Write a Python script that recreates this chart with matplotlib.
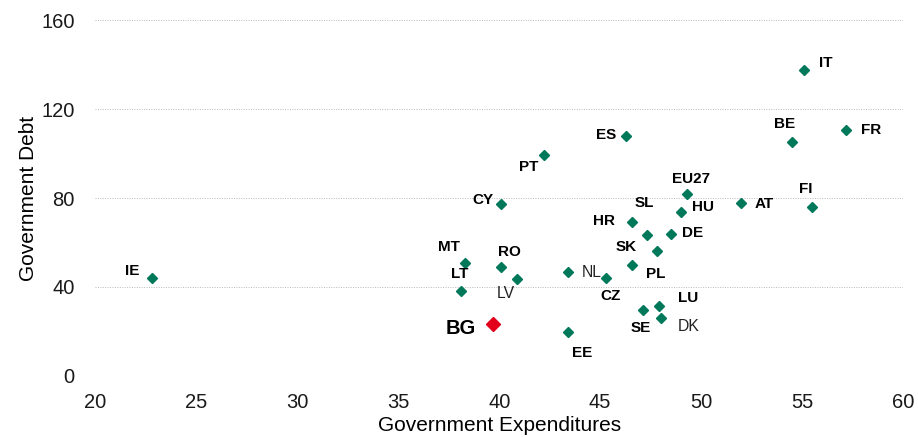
import matplotlib.pyplot as plt

plt.rcParams['font.family'] = ['Liberation Sans', 'DejaVu Sans']

# Government expenditures vs. government debt (% of GDP)
countries = ['IE', 'MT', 'LT', 'RO', 'LV', 'BG', 'NL', 'CZ', 'PL', 'SE',
             'LU', 'DK', 'EE', 'HR', 'SL', 'SK', 'DE', 'HU', 'EU27', 'ES',
             'PT', 'CY', 'IT', 'BE', 'FR', 'AT', 'FI']
gov_exp = [22.8, 38.3, 38.1, 40.1, 40.9, 39.7, 43.4, 45.3, 46.6, 47.1,
           47.9, 48.0, 43.4, 46.6, 47.3, 47.8, 48.5, 49.0, 49.3, 46.3,
           42.2, 40.1, 55.1, 54.5, 57.2, 52.0, 55.5]
gov_debt = [43.9, 50.6, 38.3, 49.0, 43.7, 23.2, 46.7, 44.2, 50.0, 29.7,
            31.5, 25.9, 19.9, 69.3, 63.4, 56.2, 63.8, 73.7, 81.8, 108.0,
            99.3, 77.4, 137.4, 105.3, 110.7, 77.9, 76.1]

highlight = 'BG'
plain_labels = ['NL', 'LV', 'DK']

# label placement relative to each marker, in pixels (x right, y up)
label_offsets = {
    'IE': (-20, 7), 'MT': (-16, 16), 'LT': (-1, 17), 'RO': (8, 15),
    'LV': (-12, -15), 'BG': (-32, -4), 'NL': (24, 0), 'CZ': (4, -18),
    'PL': (23, -9), 'SE': (-2, -18), 'LU': (29, 8), 'DK': (28, -8),
    'EE': (14, -21), 'HR': (-28, 1), 'SL': (-2, 32), 'SK': (-30, 4),
    'DE': (22, 1), 'HU': (22, 5), 'EU27': (4, 15), 'ES': (-20, 1),
    'PT': (-15, -12), 'CY': (-18, 4), 'IT': (22, 7), 'BE': (-7, 18),
    'FR': (25, 0), 'AT': (23, -1), 'FI': (-6, 18),
}

green = '#00785A'
red = '#E2001A'

fig = plt.figure(figsize=(9.18, 4.37), dpi=100)
ax = fig.add_axes([0.104, 0.1396, 0.8796, 0.8146])

for name, x, y in zip(countries, gov_exp, gov_debt):
    if name == highlight:
        ax.plot(x, y, 'D', color=red, markersize=7.6, zorder=3)
    else:
        ax.plot(x, y, 'D', color=green, markersize=5.1, zorder=3)

    dx, dy = label_offsets[name]
    if name == highlight:
        size, weight, col = 14.5, 'bold', 'black'
    elif name in plain_labels:
        size, weight, col = 11.3, 'normal', '#222222'
    else:
        size, weight, col = 11, 'bold', 'black'
    ax.annotate(name, (x, y), xytext=(dx, dy), textcoords='offset pixels',
                ha='center', va='center', fontsize=size, fontweight=weight,
                color=col)

ax.set_xlim(20, 60)
ax.set_ylim(0, 160)
ax.set_xticks(range(20, 61, 5))
ax.set_yticks(range(0, 161, 40))

ax.grid(axis='y', linestyle=(0, (1, 1.5)), color='#B8B8B8', linewidth=0.7)
ax.set_axisbelow(True)
for side in ax.spines.values():
    side.set_visible(False)

ax.tick_params(axis='both', length=0, labelsize=14.5, colors='#1a1a1a')
ax.tick_params(axis='y', pad=15)
ax.tick_params(axis='x', pad=12)

ax.set_xlabel('Government Expenditures', fontsize=15, labelpad=3)
ax.set_ylabel('Government Debt', fontsize=15, labelpad=2)

fig.savefig('out.png', dpi=100)
